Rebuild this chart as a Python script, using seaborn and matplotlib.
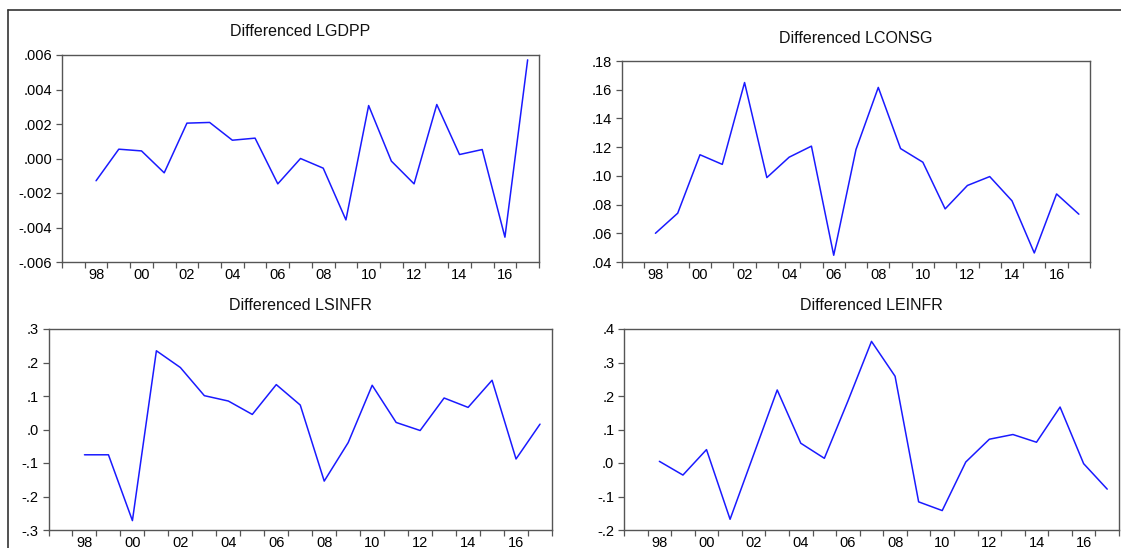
import numpy as np
import pandas as pd
import matplotlib
matplotlib.use("Agg")
import matplotlib.pyplot as plt
import matplotlib.ticker as ticker
from matplotlib.lines import Line2D
import seaborn as sns

# =========================
# 1. data
# =========================
years = list(range(1998, 2018))

d_lgdpp = [-0.00129, 0.00054, 0.00044, -0.00083, 0.00205, 0.00209, 0.00106, 0.00118,
           -0.00147, 0.00000, -0.00056, -0.00356, 0.00307, -0.00015, -0.00147, 0.00313,
           0.00023, 0.00052, -0.00456, 0.00572]

d_lconsg = [0.0600, 0.0740, 0.1147, 0.1080, 0.1650, 0.0988, 0.1130, 0.1207,
            0.0447, 0.1184, 0.1616, 0.1190, 0.1095, 0.0770, 0.0933, 0.0995,
            0.0826, 0.0463, 0.0874, 0.0733]

d_lsinfr = [-0.0755, -0.0755, -0.272, 0.235, 0.185, 0.101, 0.085, 0.045,
            0.134, 0.073, -0.154, -0.039, 0.132, 0.021, -0.003, 0.094,
            0.066, 0.147, -0.088, 0.016]

d_leinfr = [0.005, -0.036, 0.040, -0.168, 0.025, 0.218, 0.059, 0.014,
            0.185, 0.363, 0.259, -0.116, -0.142, 0.003, 0.071, 0.085,
            0.062, 0.167, -0.002, -0.078]

titles = ["Differenced LGDPP", "Differenced LCONSG", "Differenced LSINFR", "Differenced LEINFR"]
year_labels = ["98", "00", "02", "04", "06", "08", "10", "12", "14", "16"]

df = pd.DataFrame({"year": years, "LGDPP": d_lgdpp, "LCONSG": d_lconsg,
                   "LSINFR": d_lsinfr, "LEINFR": d_leinfr})

# =========================
# 2. layout (pixel boxes of the EViews panels)
# =========================
W, H = 1121, 548
sns.set_style("white")
plt.rcParams["font.family"] = ["Liberation Sans", "DejaVu Sans"]

fig = plt.figure(figsize=(W / 100, H / 100), dpi=100)

# left, top, right, bottom in pixels
boxes = [(62, 55, 539, 262), (622, 61, 1090, 262), (48.5, 329, 552, 530), (624, 329, 1119, 530)]
columns = ["LGDPP", "LCONSG", "LSINFR", "LEINFR"]
ylims = [(-0.006, 0.006), (0.04, 0.18), (-0.3, 0.3), (-0.2, 0.4)]
ysteps = [0.002, 0.02, 0.1, 0.1]
ydigits = [3, 2, 1, 1]


def eviews_fmt(digits):
    def f(v, _):
        s = f"{v:.{digits}f}"
        if s.startswith("-0."):
            s = "-" + s[2:]
        elif s.startswith("0."):
            s = s[1:]
        if s.startswith("-") and float(s) == 0:
            s = s[1:]
        return s
    return f


for (l, t, r, b), col, title, ylim, step, dig in zip(boxes, columns, titles, ylims, ysteps, ydigits):
    ax = fig.add_axes([l / W, (H - b) / H, (r - l) / W, (b - t) / H])
    sns.lineplot(data=df, x="year", y=col, ax=ax, color="#1a1aff", linewidth=1.1)
    ax.set_xlim(1996.5, 2017.5)
    ax.set_ylim(*ylim)
    ax.set_xlabel("")
    ax.set_ylabel("")

    # year boundaries as ticks, labels centred on even years
    ax.set_xticks(np.arange(1996.5, 2018, 1.0))
    ax.set_xticklabels([])
    ax.set_xticks(np.arange(1998, 2017, 2), minor=True)
    ax.set_xticklabels(year_labels, minor=True)
    ax.tick_params(axis="x", which="major", direction="out", length=4, width=0.9, color="#555555")
    ax.tick_params(axis="x", which="minor", length=0, pad=4.5, labelsize=10.5, labelcolor="black")

    ax.yaxis.set_major_locator(ticker.MultipleLocator(step))
    ax.yaxis.set_major_formatter(ticker.FuncFormatter(eviews_fmt(dig)))
    ax.tick_params(axis="y", direction="out", length=4, width=0.9, color="#555555",
                   pad=3, labelsize=10.5, labelcolor="black")
    ax.tick_params(left=True, bottom=True)

    for sp in ax.spines.values():
        sp.set_visible(True)
        sp.set_color("#555555")
        sp.set_linewidth(1.0)
    ax.grid(False)

    ax.text(0.5, 1 + 23 / (b - t), title, transform=ax.transAxes,
            ha="center", va="center", fontsize=11.5, color="#111111")

# outer frame lines (top and left)
fig.add_artist(Line2D([8 / W, 1], [(H - 10) / H, (H - 10) / H], transform=fig.transFigure,
                      color="#333333", linewidth=1.2))
fig.add_artist(Line2D([8 / W, 8 / W], [0, (H - 10) / H], transform=fig.transFigure,
                      color="#333333", linewidth=1.2))

fig.savefig("out.png", dpi=100)
